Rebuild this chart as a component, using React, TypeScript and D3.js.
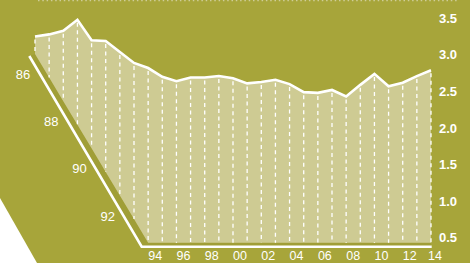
import * as d3 from "d3";
import { useEffect, useRef } from "react";

const years = d3.range(1986, 2015);
const values = [
  3.25, 3.28, 3.33, 3.48, 3.2, 3.19, 3.04, 2.89, 2.82, 2.7,
  2.64, 2.69, 2.69, 2.71, 2.68, 2.61, 2.63, 2.66, 2.6, 2.49,
  2.48, 2.52, 2.43, 2.59, 2.74, 2.57, 2.62, 2.71, 2.79,
];
const yTicks = [0.5, 1.0, 1.5, 2.0, 2.5, 3.0, 3.5];
const slantYears = [1986, 1988, 1990, 1992];
const flatYears = [1994, 1996, 1998, 2000, 2002, 2004, 2006, 2008, 2010, 2012, 2014];

const bg = "#a7a53a";
const floorShade = "#a09e37";
const fillColor = "#cecb93";
const font = "'Liberation Sans', Arial, sans-serif";

function drawChart(svgElement) {
  const width = 470;
  const height = 263;
  const svg = d3.select(svgElement);
  svg.selectAll("*").remove();
  svg.attr("viewBox", `0 0 ${width} ${height}`);

  const x = d3.scaleLinear().domain([1986, 2014]).range([35, 431]);
  const y = d3.scaleLinear().domain([0.5, 3.5]).range([237.7, 18.3]);
  // the floor: slanted for the first years, then flat
  const floor = d3.scaleLinear().domain([1986, 1994, 2014]).range([54, 242.7, 242.7]).clamp(true);

  const rows = years.map((year, i) => ({ year, value: values[i] }));

  svg.append("rect").attr("width", width).attr("height", height).attr("fill", bg);

  // faint dotted edge at the top
  svg
    .append("line")
    .attr("x1", 38)
    .attr("x2", 458)
    .attr("y1", 0.6)
    .attr("y2", 0.6)
    .attr("stroke", "#cfcd98")
    .attr("stroke-width", 1.2)
    .attr("stroke-dasharray", "1.5,2.8");

  // white corner bottom left
  svg.append("path").attr("d", "M0,198 L37,263 L0,263 Z").attr("fill", "#ffffff");

  // darker band between floor edge and axis line
  const edge = [1986, 1994, 2014].map((yr) => [x(yr), floor(yr)]);
  const axisPts = [
    [29.3, 56],
    [141.7, 246.7],
    [431.7, 246.7],
  ];
  svg
    .append("path")
    .attr("d", d3.line()([...edge, [431, 246.7], ...axisPts.slice().reverse()]) + "Z")
    .attr("fill", floorShade);

  const area = d3
    .area()
    .x((d) => x(d.year))
    .y0((d) => floor(d.year))
    .y1((d) => y(d.value));

  svg.append("path").datum(rows).attr("d", area).attr("fill", fillColor);

  svg
    .append("g")
    .selectAll("line")
    .data(rows)
    .join("line")
    .attr("x1", (d) => x(d.year))
    .attr("x2", (d) => x(d.year))
    .attr("y1", (d) => y(d.value) + 3)
    .attr("y2", (d) => floor(d.year))
    .attr("stroke", "#ffffff")
    .attr("stroke-width", 1.3)
    .attr("stroke-dasharray", "4,3.5");

  svg
    .append("path")
    .datum(rows)
    .attr(
      "d",
      d3
        .line()
        .x((d) => x(d.year))
        .y((d) => y(d.value))
    )
    .attr("fill", "none")
    .attr("stroke", "#ffffff")
    .attr("stroke-width", 2.6)
    .attr("stroke-linejoin", "miter");

  svg
    .append("path")
    .attr("d", d3.line()(axisPts))
    .attr("fill", "none")
    .attr("stroke", "#ffffff")
    .attr("stroke-width", 2.6);

  const label = (g) =>
    g
      .attr("fill", "#ffffff")
      .attr("font-family", font)
      .attr("font-size", 13)
      .attr("text-anchor", "middle")
      .attr("dominant-baseline", "central");

  svg
    .append("g")
    .call(label)
    .selectAll("text")
    .data(slantYears)
    .join("text")
    .attr("x", (d) => x(d) - 12)
    .attr("y", (d) => floor(d) + 20.5)
    .text((d) => String(d % 100).padStart(2, "0"));

  // bottom labels sit a little higher than in the original so they are not clipped
  svg
    .append("g")
    .call(label)
    .attr("font-size", 12.5)
    .selectAll("text")
    .data(flatYears)
    .join("text")
    .attr("x", (d) => Math.min(x(d) + 7, 435))
    .attr("y", 255.5)
    .text((d) => String(d % 100).padStart(2, "0"));

  svg
    .append("g")
    .call(label)
    .attr("text-anchor", "start")
    .attr("font-weight", "bold")
    .selectAll("text")
    .data(yTicks)
    .join("text")
    .attr("x", 439)
    .attr("y", (d) => y(d))
    .text((d) => d.toFixed(1));
}

export default function App() {
  const svgRef = useRef(null);

  useEffect(() => {
    document.body.style.margin = "0";
    drawChart(svgRef.current);
  }, []);

  return <svg ref={svgRef} width={470} height={263} style={{ display: "block" }} />;
}
